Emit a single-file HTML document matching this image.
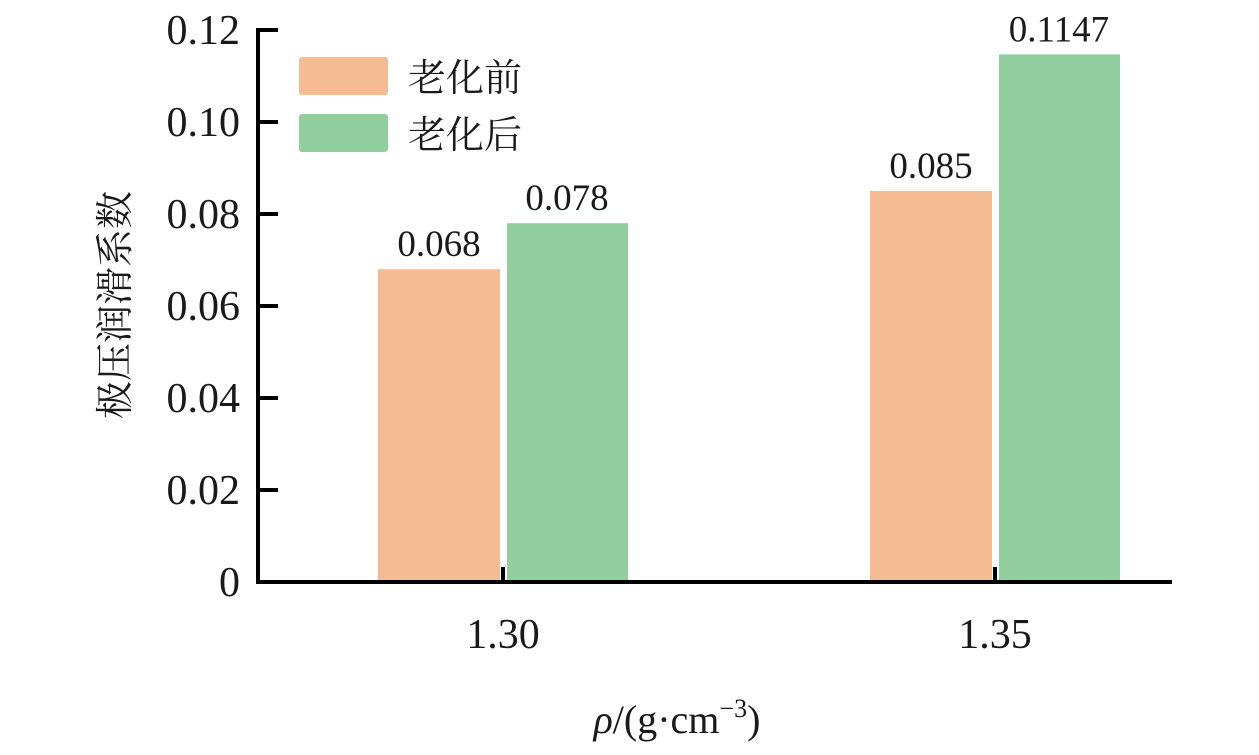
<!DOCTYPE html>
<html><head><meta charset="utf-8"><style>
body{margin:0;background:#fff}
svg text{font-family:"Liberation Serif","Noto Serif CJK SC",serif;fill:#1a1a1a}
.cjk{font-family:"Liberation Serif","Noto Serif CJK SC","Noto Sans CJK SC",serif}
</style></head><body>
<svg id="chart" width="1259" height="750" xmlns="http://www.w3.org/2000/svg">
<g id="plot"></g>
<rect x="299" y="57" width="89" height="38" rx="3" fill="#F5BB93"/>
<text x="408" y="91" font-size="38" class="cjk">老化前</text>
<rect x="299" y="114" width="89" height="38" rx="3" fill="#91CF9F"/>
<text x="408" y="148" font-size="38" class="cjk">老化后</text>
<text transform="translate(128,305) rotate(-90)" text-anchor="middle" font-size="38" class="cjk">极压润滑系数</text>
<text x="677" y="733" text-anchor="middle" font-size="40"><tspan font-style="italic">ρ</tspan>/(g·cm<tspan font-size="26" dy="-16">−3</tspan><tspan dy="16">)</tspan></text>
</svg>
<script>
const categories = ["1.30", "1.35"];
const before = [0.068, 0.085];
const after = [0.078, 0.1147];
const beforeLabels = ["0.068", "0.085"];
const afterLabels = ["0.078", "0.1147"];
const yTicks = [0, 0.02, 0.04, 0.06, 0.08, 0.10, 0.12];
const yTickLabels = ["0", "0.02", "0.04", "0.06", "0.08", "0.10", "0.12"];

const NS = "http://www.w3.org/2000/svg";
const g = document.getElementById("plot");
const x0 = 258, x1 = 1172, yBase = 582, yTop = 30, yMax = 0.12;
const y = v => yBase - (v / yMax) * (yBase - yTop);
const groupX = i => 503 + i * 492;
function mk(tag, attrs, parent) {
  const e = document.createElementNS(NS, tag);
  for (const k in attrs) e.setAttribute(k, attrs[k]);
  (parent || g).appendChild(e);
  return e;
}
categories.forEach((c, i) => {
  const cx = groupX(i);
  const b = mk("rect", {x: cx - 125, y: y(before[i]), width: 122, height: yBase - y(before[i]), fill: "#F5BB93"});
  
  
  const a = mk("rect", {x: cx + 4, y: y(after[i]), width: 121, height: yBase - y(after[i]), fill: "#91CF9F"});
  
  
  const tb = mk("text", {x: cx - 64, y: y(before[i]) - 13, "text-anchor": "middle", "font-size": 37});
  tb.textContent = beforeLabels[i];
  
  
  const ta = mk("text", {x: cx + 64, y: y(after[i]) - 13, "text-anchor": "middle", "font-size": 37});
  ta.textContent = afterLabels[i];
  
  
  const tk = mk("line", {x1: cx, x2: cx, y1: yBase, y2: yBase - 15, stroke: "#000", "stroke-width": 4});
  
  
  const xl = mk("text", {x: cx, y: 648, "text-anchor": "middle", "font-size": 42});
  xl.textContent = c;
  
  
});
yTicks.forEach((v, i) => {
  const t = mk("line", {x1: x0, x2: x0 + 20, y1: y(v), y2: y(v), stroke: "#000", "stroke-width": 4});
  
  
  const l = mk("text", {x: 240, y: y(v) + 14, "text-anchor": "end", "font-size": 42});
  l.textContent = yTickLabels[i];
  
  
});
const ya = mk("line", {x1: x0, x2: x0, y1: yTop - 2, y2: yBase + 2, stroke: "#000", "stroke-width": 4});


const xa = mk("line", {x1: x0 - 2, x2: x1, y1: yBase, y2: yBase, stroke: "#000", "stroke-width": 4});


</script>
</body></html>
